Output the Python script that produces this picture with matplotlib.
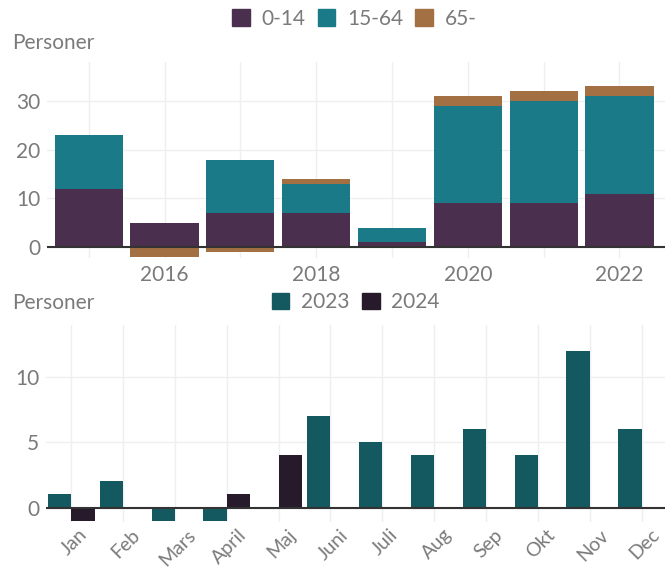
import numpy as np
import matplotlib
matplotlib.use('Agg')
import matplotlib.pyplot as plt
import matplotlib.transforms as mtransforms
from matplotlib.patches import Patch

plt.rcParams['font.family'] = ['Lato', 'DejaVu Sans']

# top chart: change by age group per year
years = [2015, 2016, 2017, 2018, 2019, 2020, 2021, 2022]
age_groups = ['0-14', '15-64', '65-']
age_0_14 = [12, 5, 7, 7, 1, 9, 9, 11]
age_15_64 = [11, 0, 11, 6, 3, 20, 21, 20]
age_65 = [0, -2, -1, 1, 0, 2, 2, 2]
age_colors = ['#4B2F4E', '#1B7A87', '#A37043']

# bottom chart: per month, two years
months = ['Jan', 'Feb', 'Mars', 'April', 'Maj', 'Juni', 'Juli', 'Aug', 'Sep', 'Okt', 'Nov', 'Dec']
vals_2023 = [1, 2, -1, -1, 0, 7, 5, 4, 6, 4, 12, 6]
vals_2024 = [-1, 0, 0, 1, 4, 0, 0, 0, 0, 0, 0, 0]
year_colors = ['#155960', '#261A2B']

grey = '#7A7A7A'
grid_col = '#EFEFEF'
fs = 15

fig = plt.figure(figsize=(6.71, 5.70), dpi=100)

# ---- top panel ----
ax1 = fig.add_axes([0.070, 0.547, 0.921, 0.344])
pos_base = np.zeros(len(years))
neg_base = np.zeros(len(years))
for name, vals, col in zip(age_groups, [age_0_14, age_15_64, age_65], age_colors):
    v = np.array(vals, dtype=float)
    bottoms = np.where(v >= 0, pos_base, neg_base)
    ax1.bar(years, v, bottom=bottoms, width=0.9, color=col, zorder=2)
    pos_base += np.where(v > 0, v, 0)
    neg_base += np.where(v < 0, v, 0)

ax1.set_xlim(2014.45, 2022.6)
ax1.set_ylim(-2.26, 38)
ax1.set_yticks([0, 10, 20, 30])
ax1.set_xticks(years)
ax1.set_xticklabels([str(y) if y % 2 == 0 else '' for y in years])
ax1.axhline(0, color='#333333', lw=1.5, zorder=3)

# ---- bottom panel ----
ax2 = fig.add_axes([0.069, 0.0842, 0.922, 0.3456])
x = np.arange(1, len(months) + 1)
ax2.bar(x - 0.225, vals_2023, width=0.45, color=year_colors[0], zorder=2)
ax2.bar(x + 0.225, vals_2024, width=0.45, color=year_colors[1], zorder=2)
ax2.set_xlim(0.52, 12.45)
ax2.set_ylim(-1.11, 13.98)
ax2.set_yticks([0, 5, 10])
ax2.set_xticks(x)
ax2.set_xticklabels(months, rotation=45, ha='center', va='top')
ax2.axhline(0, color='#333333', lw=1.5, zorder=3)

for ax in (ax1, ax2):
    for s in ax.spines.values():
        s.set_visible(False)
    ax.grid(True, color=grid_col, lw=1, zorder=0)
    ax.set_axisbelow(True)
    ax.tick_params(length=0, labelsize=fs, labelcolor=grey, pad=5)
ax2.tick_params(axis='x', labelsize=14, pad=3)

# nudge month labels a little right, like the original
shift = mtransforms.ScaledTranslation(3 / 100, 0, fig.dpi_scale_trans)
for lab in ax2.get_xticklabels():
    lab.set_transform(lab.get_transform() + shift)

fig.text(0.018, 0.914, 'Personer', fontsize=fs, color=grey, va='baseline')
fig.text(0.018, 0.458, 'Personer', fontsize=fs, color=grey, va='baseline')

leg_kw = dict(frameon=False, labelcolor=grey, handlelength=0.85,
              handleheight=0.85, handletextpad=0.55, columnspacing=0.6,
              prop={'size': fs})
fig.legend(handles=[Patch(color=c, label=l) for c, l in zip(age_colors, age_groups)],
           loc='center', bbox_to_anchor=(0.528, 0.967), ncol=3, **leg_kw)
fig.legend(handles=[Patch(color=c, label=l) for c, l in zip(year_colors, ['2023', '2024'])],
           loc='center', bbox_to_anchor=(0.53, 0.47), ncol=2, **leg_kw)

fig.savefig('out.png', dpi=100)
